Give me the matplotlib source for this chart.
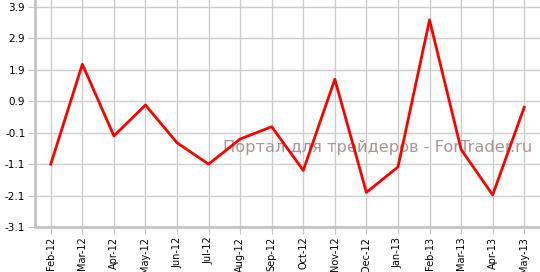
import matplotlib.pyplot as plt

# monthly values
months = ["Feb-12", "Mar-12", "Apr-12", "May-12", "Jun-12", "Jul-12", "Aug-12", "Sep-12",
          "Oct-12", "Nov-12", "Dec-12", "Jan-13", "Feb-13", "Mar-13", "Apr-13", "May-13"]
values = [-1.1, 2.08, -0.2, 0.78, -0.42, -1.1, -0.3, 0.09,
          -1.3, 1.6, -2.0, -1.19, 3.49, -0.63, -2.08, 0.71]
yticks = [-3.1, -2.1, -1.1, -0.1, 0.9, 1.9, 2.9, 3.9]

fig = plt.figure(figsize=(5.4, 2.72), dpi=100)
ax = fig.add_axes([35 / 540, 1 - 227 / 272, 1 - 35 / 540, 227 / 272])

x = list(range(len(months)))
ax.plot(x, values, color='#ff0000', linewidth=2, zorder=3)

ax.set_xlim(-0.5, len(months) - 0.5)
ax.set_ylim(-3.1, 3.9 + 7 / 31.43)
ax.set_xticks(x)
ax.set_xticklabels(months, rotation=90, fontsize=7)
ax.set_yticks(yticks)
ax.set_yticklabels([f"{t:.1f}" for t in yticks], fontsize=7.5)

ax.grid(True, color='#cccccc', linewidth=1)
ax.set_axisbelow(True)
for side in ['top', 'right']:
    ax.spines[side].set_visible(False)
for side in ['left', 'bottom']:
    ax.spines[side].set_color('#c4c4c4')
    ax.spines[side].set_linewidth(2)
ax.tick_params(axis='y', length=5, color='#c4c4c4', pad=2)
ax.tick_params(axis='x', length=5, color='#c4c4c4', pad=2)

# watermark (under the line)
ax.text(0.679, 0.352, "Портал для трейдеров - ForTrader.ru", transform=ax.transAxes,
        ha='center', va='center', fontsize=11.7, color='#a08c8c', alpha=0.9, zorder=2)

fig.savefig("out.png", dpi=100)
